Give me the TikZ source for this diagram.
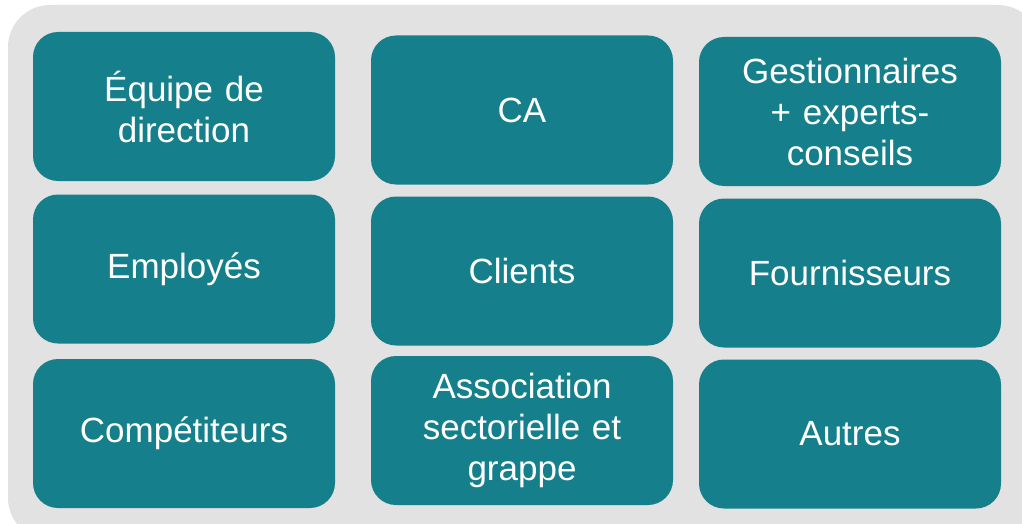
\documentclass[tikz,border=0pt]{standalone}
\usepackage{fontspec}
\setmainfont{Liberation Sans}
\usepackage{xcolor}
\usepackage{tikz}
\usetikzlibrary{positioning}
\definecolor{tileteal}{HTML}{15808C}
\definecolor{panelgrey}{HTML}{E2E2E2}

\begin{document}
\begin{tikzpicture}[x=1pt, y=-1pt,
  tile/.style={fill=tileteal, rounded corners=25pt,
               minimum width=302pt, minimum height=149pt,
               text width=290pt, align=center, inner sep=0pt,
               font=\fontsize{35}{41}\selectfont, text=white},
  panel/.style={fill=panelgrey, rounded corners=42pt}
]
  \useasboundingbox (0,0) rectangle (1022,524);
  \clip (0,0) rectangle (1022,524);
  \fill[panel] (8,5) rectangle (1040,540);

  \node[tile] (equipe)  at (184,106.5) {Équipe de\\direction};
  \node[tile] (ca)      at (522,110)   {CA};
  \node[tile] (gestion) at (850,111.5) {Gestionnaires\\+ experts-\\conseils};

  \node[tile] (employes) at (184,269) {Employés};
  \node[tile] (clients)  at (522,271) {Clients};
  \node[tile] (fourn)    at (850,273) {Fournisseurs};

  \node[tile] (compet) at (184,433.5) {Compétiteurs};
  \node[tile] (assoc)  at (522,430.5) {Association\\sectorielle et\\grappe};
  \node[tile] (autres) at (850,434)   {Autres};
\end{tikzpicture}
\end{document}
